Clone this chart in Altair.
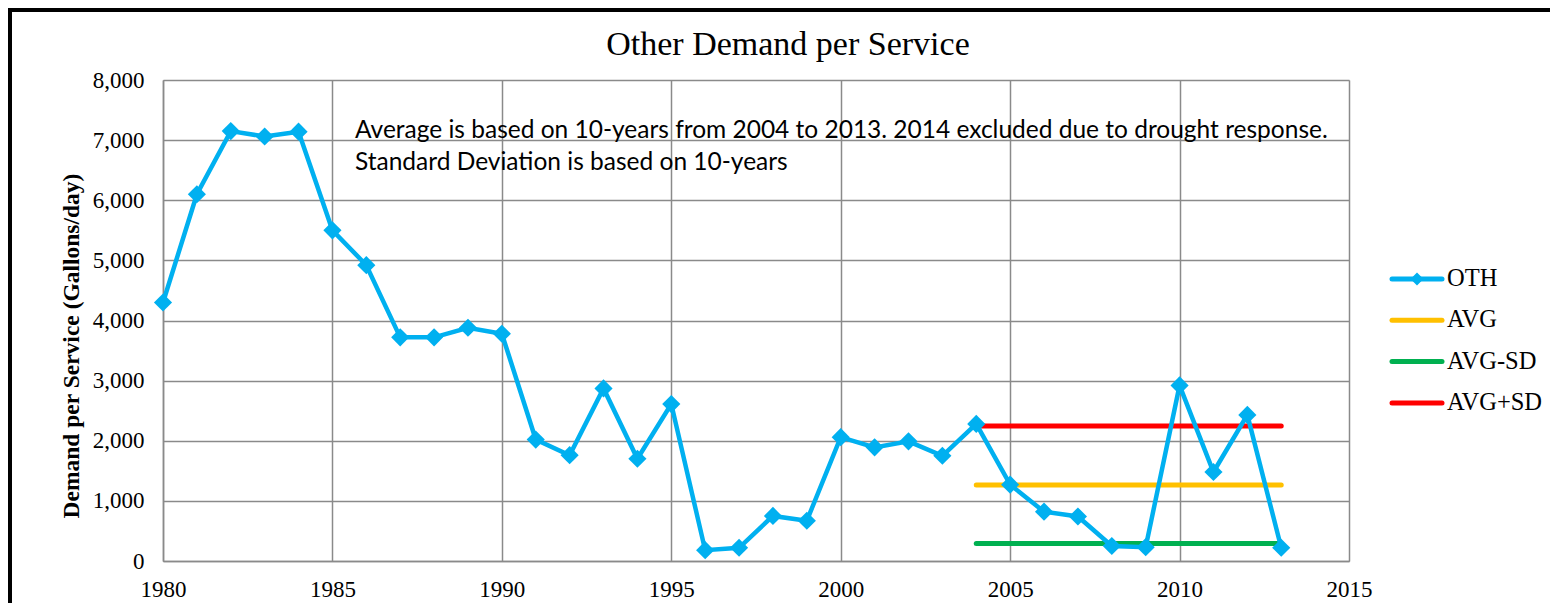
import altair as alt
import pandas as pd

years = list(range(1980, 2014))
oth = [4300, 6100, 7150, 7060, 7140, 5500, 4920, 3720, 3720, 3880,
       3780, 2020, 1760, 2870, 1700, 2610, 180, 220, 750, 670,
       2060, 1890, 1990, 1750, 2280, 1270, 820, 740, 250, 230,
       2920, 1480, 2430, 220]
ref_years = [2004, 2013]
avg_val = 1264
avg_minus_sd = 290
avg_plus_sd = 2245
series = ["OTH", "AVG", "AVG-SD", "AVG+SD"]
colors = ["#00B0F0", "#FFC000", "#00B050", "#FF0000"]
title_text = "Other Demand per Service"
y_title = "Demand per Service (Gallons/day)"
note_lines = ["Average is based on 10-years from 2004 to 2013. 2014 excluded due to drought response.",
              "Standard Deviation is based on 10-years"]

SERIF = "Liberation Serif"
GRID = "#8a8a8a"

oth_df = pd.DataFrame({"year": years, "value": oth, "series": "OTH"})
ref_rows = []
for name, v in [("AVG", avg_val), ("AVG-SD", avg_minus_sd), ("AVG+SD", avg_plus_sd)]:
    for yr in ref_years:
        ref_rows.append({"year": yr, "value": v, "series": name})
ref_df = pd.DataFrame(ref_rows)

color_scale = alt.Scale(domain=series, range=colors)
xscale = alt.Scale(domain=[1980, 2015], nice=False, zero=False)
yscale = alt.Scale(domain=[0, 8000], nice=False)

xenc = alt.X("year:Q", scale=xscale,
             axis=alt.Axis(values=list(range(1980, 2016, 5)), format="d", title=None,
                           grid=True, gridColor=GRID, gridWidth=1.5, ticks=False,
                           domainColor=GRID, domainWidth=1.5, labelPadding=17,
                           labelFlush=False, labelOverlap=False,
                           labelFont=SERIF, labelFontSize=23, labelColor="black"))
yenc = alt.Y("value:Q", scale=yscale,
             axis=alt.Axis(values=list(range(0, 8001, 1000)), format=",d", title=None,
                           grid=True, gridColor=GRID, gridWidth=1.5, ticks=False,
                           domainColor=GRID, domainWidth=1.5, labelPadding=19,
                           labelFlush=False, labelOverlap=False,
                           labelFont=SERIF, labelFontSize=23, labelColor="black"))

ref_lines = alt.Chart(ref_df).mark_line(strokeWidth=5, strokeCap="round").encode(
    x=xenc, y=yenc,
    color=alt.Color("series:N", scale=color_scale, legend=None),
    detail="series:N",
)

oth_line = alt.Chart(oth_df).mark_line(strokeWidth=4.5, color=colors[0]).encode(
    x=xenc, y=yenc,
)
oth_pts = alt.Chart(oth_df).mark_point(shape="diamond", filled=True, size=330,
                                       color=colors[0], opacity=1).encode(
    x=xenc, y=yenc,
)

# title and texts
title = alt.Chart(pd.DataFrame({"t": [title_text]})).mark_text(
    font=SERIF, fontSize=34, align="center", baseline="middle", color="black"
).encode(x=alt.value(625), y=alt.value(-35), text="t:N")

ytitle = alt.Chart(pd.DataFrame({"t": [y_title]})).mark_text(
    font=SERIF, fontSize=23.5, fontWeight="bold", align="center", baseline="middle",
    angle=270, color="black"
).encode(x=alt.value(-91), y=alt.value(266), text="t:N")

note1 = alt.Chart(pd.DataFrame({"t": [note_lines[0]]})).mark_text(
    font="Lato", fontSize=24.5, align="left", baseline="middle", color="black"
).encode(x=alt.value(192), y=alt.value(51), text="t:N")
note2 = alt.Chart(pd.DataFrame({"t": [note_lines[1]]})).mark_text(
    font="Lato", fontSize=24.5, align="left", baseline="middle", color="black"
).encode(x=alt.value(192), y=alt.value(83), text="t:N")

# legend
leg_df = pd.DataFrame({"series": series, "i": list(range(len(series)))})
leg_df["ly"] = 199 + leg_df["i"] * 41.3
leg_df["x1"] = 1229
leg_df["x2"] = 1279
leg_df["lx"] = 1284
leg_df["cx"] = 1254
leg_lines = alt.Chart(leg_df).mark_rule(strokeWidth=5, strokeCap="round").encode(
    x=alt.X("x1:Q", scale=None), x2="x2:Q", y=alt.Y("ly:Q", scale=None),
    color=alt.Color("series:N", scale=color_scale, legend=None),
)
leg_diamond = alt.Chart(leg_df[leg_df["series"] == "OTH"]).mark_point(
    shape="diamond", filled=True, size=170, color=colors[0], opacity=1
).encode(x=alt.X("cx:Q", scale=None), y=alt.Y("ly:Q", scale=None))
leg_text = alt.Chart(leg_df).mark_text(
    font=SERIF, fontSize=24.5, align="left", baseline="middle", color="black"
).encode(x=alt.X("lx:Q", scale=None), y=alt.Y("ly:Q", scale=None), text="series:N")

# frame (top and left black border)
frame_left = alt.Chart(pd.DataFrame({"a": [0]})).mark_rule(color="black", strokeWidth=4).encode(
    x=alt.value(-153), y=alt.value(-72), y2=alt.value(523))
frame_top = alt.Chart(pd.DataFrame({"a": [0]})).mark_rule(color="black", strokeWidth=4).encode(
    x=alt.value(-155), x2=alt.value(1387), y=alt.value(-70))

chart = alt.layer(
    ref_lines, oth_line, oth_pts, title, ytitle, note1, note2,
    leg_lines, leg_diamond, leg_text, frame_left, frame_top
).properties(
    width=1186, height=481,
    padding={"left": 155, "top": 72, "right": 201, "bottom": 42},
    autosize=alt.AutoSizeParams(type="none"),
).configure_view(stroke=GRID, strokeWidth=1.5).configure(background="white")

chart.save("out.html", embed_options={"renderer": "svg", "actions": False})
